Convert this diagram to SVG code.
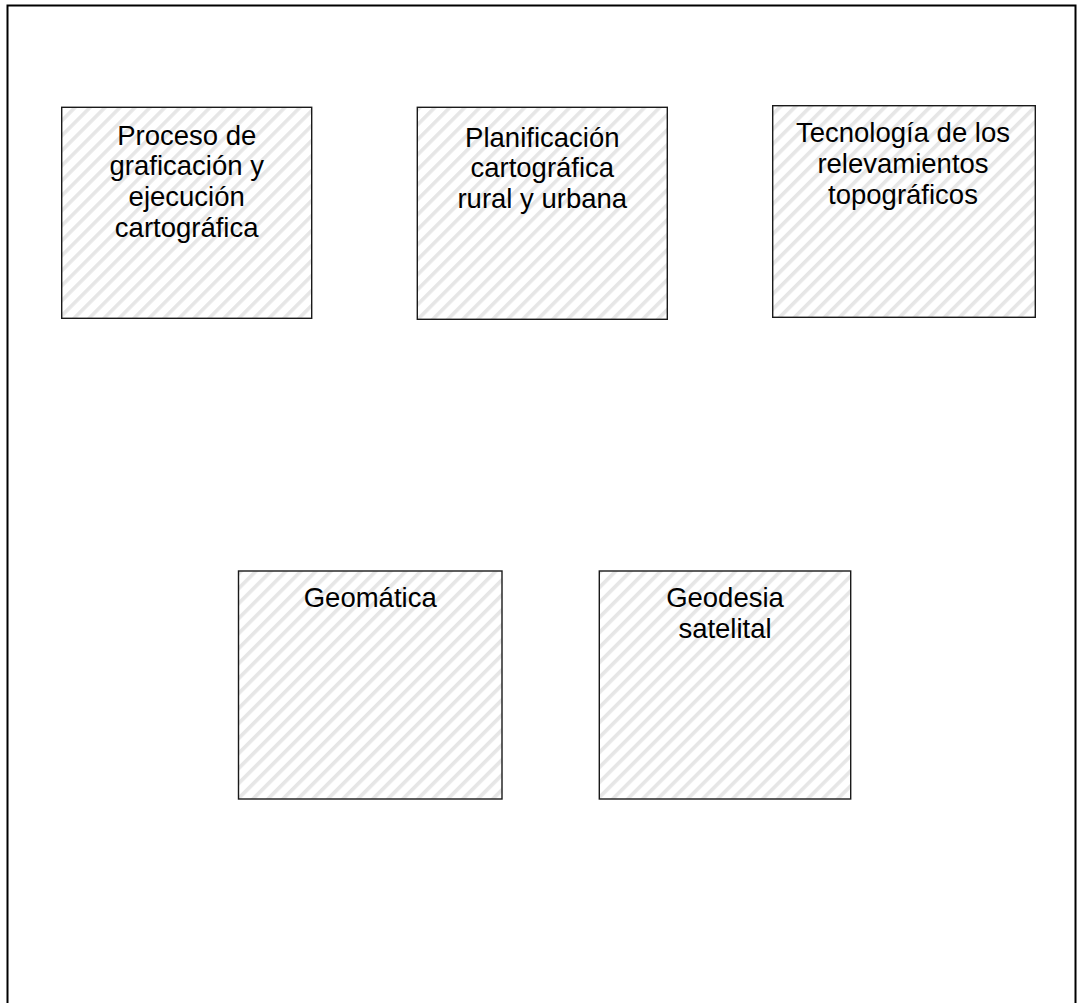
<svg xmlns="http://www.w3.org/2000/svg" width="1081" height="1003" viewBox="0 0 1081 1003">
<defs>
<pattern id="hatch" patternUnits="userSpaceOnUse" width="10.6" height="10.6" patternTransform="rotate(45)">
<rect width="10.6" height="10.6" fill="#ffffff"/>
<rect x="0" y="0" width="3.6" height="10.6" fill="#e6e6e6"/>
</pattern>
</defs>
<style>
.box{fill:url(#hatch);stroke:#1a1a1a;stroke-width:1.4}
.lbl{font-family:"Liberation Sans",Arial,sans-serif;font-size:27.5px;fill:#000;text-anchor:middle}
</style>
<rect width="1081" height="1003" fill="#fff"/>
<rect id="frame" x="7.5" y="5.5" width="1068" height="1020" fill="none" stroke="#000" stroke-width="2"/>
<g id="connectors"></g>
<g id="n1">
<rect class="box" x="61.7" y="107.3" width="250" height="211"/>
<text class="lbl" x="186.7" y="144.5">Proceso de</text>
<text class="lbl" x="186.7" y="175.2">graficación y</text>
<text class="lbl" x="186.7" y="205.9">ejecución</text>
<text class="lbl" x="186.7" y="236.6">cartográfica</text>
</g>
<g id="n2">
<rect class="box" x="417.3" y="107.3" width="250" height="212"/>
<text class="lbl" x="542.3" y="146.7">Planificación</text>
<text class="lbl" x="542.3" y="177.4">cartográfica</text>
<text class="lbl" x="542.3" y="208.1">rural y urbana</text>
</g>
<g id="n3">
<rect class="box" x="772.7" y="105.7" width="262.6" height="211.6"/>
<text class="lbl" x="903" y="142.3">Tecnología de los</text>
<text class="lbl" x="903" y="173">relevamientos</text>
<text class="lbl" x="903" y="203.7">topográficos</text>
</g>
<g id="n4">
<rect class="box" x="238.5" y="571" width="263.5" height="228"/>
<text class="lbl" x="370.2" y="606.7">Geomática</text>
</g>
<g id="n5">
<rect class="box" x="599.3" y="571" width="251.4" height="228"/>
<text class="lbl" x="725" y="607.3">Geodesia</text>
<text class="lbl" x="725" y="638">satelital</text>
</g>
</svg>
